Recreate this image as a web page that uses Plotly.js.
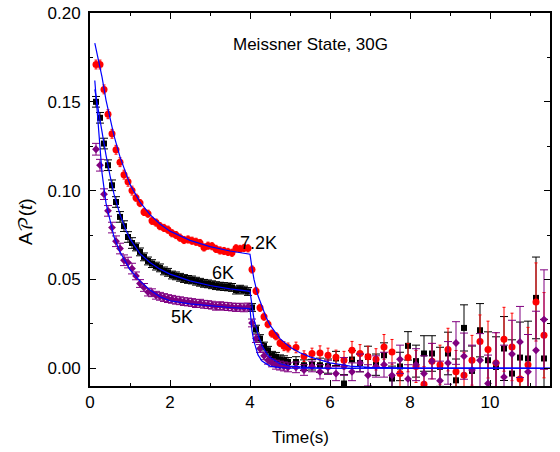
<!DOCTYPE html>
<html>
<head>
<meta charset="utf-8">
<script src="https://cdn.plot.ly/plotly-3.0.1.min.js"></script>
<style>html,body{margin:0;padding:0;background:#fff;}#chart{width:560px;height:452px;}</style>
</head>
<body>
<div id="chart"></div>
<script>
// time bins (s)
const t = [0.15,0.25,0.35,0.45,0.55,0.65,0.75,0.85,0.95,1.05,1.15,1.25,1.35,1.45,1.55,1.65,1.75,1.85,1.95,2.05,
  2.15,2.25,2.35,2.45,2.55,2.65,2.75,2.85,2.95,3.05,3.15,3.25,3.35,3.45,3.55,3.65,3.75,3.85,3.95,
  4.05,4.15,4.25,4.35,4.45,4.55,4.65,4.75,4.85,4.95,
  5.15,5.35,5.55,5.75,5.95,6.15,6.35,6.55,6.75,6.95,7.15,7.35,7.55,7.75,7.95,8.15,8.35,8.55,8.75,8.95,
  9.15,9.35,9.55,9.75,9.95,10.15,10.35,10.55,10.75,10.95,11.15,11.35];

// 7.2K (red)
const red = [0.171,0.171,0.157,0.143,0.132,0.123,0.116,0.109,0.105,0.100,0.096,0.093,0.088,0.087,0.083,0.082,0.080,0.079,0.078,0.076,
  0.075,0.0735,0.0722,0.0725,0.0718,0.0712,0.0705,0.068,0.069,0.0687,0.0672,0.0663,0.066,0.0655,0.065,0.0675,0.0672,0.0677,0.0675,
  0.0556,0.0435,0.034,0.029,0.0248,0.0195,0.018,0.0142,0.0124,0.0117,
  0.0117,0.0068,0.0083,0.0086,0.0073,0.0062,0.0045,0.0101,0.0083,0.0064,0.0050,0.0120,0.0092,-0.0030,0.0060,0.0010,-0.0090,0.0040,0.0020,0.0105,
  -0.0020,-0.0040,0.0045,0.0150,0.0105,0.0030,0.0163,0.0120,-0.0060,0.0020,0.0373,0.0186];
const redErr = [0.0025,0.0025,0.0025,0.0025,0.0025,0.0025,0.0025,0.0025,0.0025,0.0025,0.002,0.002,0.002,0.002,0.002,0.002,0.002,0.002,0.002,0.002,
  0.002,0.002,0.002,0.002,0.002,0.002,0.002,0.002,0.002,0.002,0.002,0.002,0.002,0.002,0.002,0.002,0.002,0.002,0.002,
  0.002,0.002,0.002,0.002,0.002,0.002,0.002,0.002,0.0025,0.0025,
  0.003,0.003,0.003,0.004,0.004,0.004,0.005,0.005,0.005,0.006,0.006,0.007,0.007,0.008,0.008,0.009,0.010,0.010,0.011,0.012,
  0.012,0.013,0.014,0.015,0.016,0.017,0.018,0.019,0.020,0.021,0.022,0.024];

// 6K (black)
const black = [0.150,0.141,0.1265,0.1143,0.103,0.0936,0.0852,0.080,0.0739,0.0705,0.0683,0.0655,0.0627,0.0604,0.0589,0.0575,0.0565,0.0548,0.054,0.0525,
  0.052,0.0512,0.0505,0.050,0.0497,0.049,0.0484,0.0478,0.0475,0.047,0.0465,0.0462,0.046,0.0458,0.0455,0.044,0.0445,0.044,0.0432,
  0.0342,0.022,0.0167,0.0125,0.0101,0.0073,0.0064,0.005,0.0045,0.0035,
  0.0035,0.0017,0.0020,0.0017,0.0012,0.0055,-0.0086,0.0049,0.0030,0.0064,0.0020,0.0073,-0.0058,0.0010,0.0126,0.0040,0.0083,0.0083,0.0008,0.0083,
  -0.0068,0.0227,-0.0015,0.0214,0.0045,0.0007,0.0111,-0.0030,0.0060,0.0055,0.0396,0.0055];
const blackErr = [0.003,0.003,0.003,0.003,0.003,0.003,0.003,0.003,0.003,0.003,0.0022,0.0022,0.0022,0.0022,0.0022,0.0022,0.0022,0.0022,0.0022,0.0022,
  0.0022,0.0022,0.0022,0.0022,0.0022,0.0022,0.0022,0.0022,0.0022,0.0022,0.0022,0.0022,0.0022,0.0022,0.0022,0.0022,0.0022,0.0022,0.0022,
  0.0022,0.0022,0.0022,0.0022,0.0022,0.0022,0.0025,0.0025,0.0025,0.0025,
  0.003,0.003,0.003,0.004,0.004,0.004,0.005,0.005,0.005,0.006,0.006,0.007,0.007,0.008,0.008,0.009,0.010,0.010,0.011,0.012,
  0.012,0.013,0.014,0.015,0.016,0.017,0.018,0.019,0.020,0.021,0.023,0.022];

// 5K (purple)
const purple = [0.1233,0.1143,0.098,0.0886,0.0792,0.0715,0.0674,0.0608,0.0595,0.0561,0.052,0.0477,0.0455,0.0429,0.0425,0.0411,0.0405,0.0398,0.0392,0.0388,
  0.0383,0.038,0.0375,0.0373,0.037,0.0364,0.0366,0.036,0.0358,0.0355,0.0349,0.0352,0.0349,0.0347,0.0345,0.0342,0.0344,0.034,0.0345,
  0.0255,0.0167,0.0111,0.007,0.0045,0.003,0.002,0.0015,0.001,0.0005,
  0.0005,-0.0010,0.0010,-0.0020,0.0005,-0.0030,0.0010,-0.0020,0.0030,-0.0040,0.0010,0.0020,-0.0040,0.0050,-0.0060,0.0020,-0.0030,0.0040,-0.0070,0.0030,
  0.0142,0.0068,-0.0010,0.0045,-0.0086,0.0030,-0.0050,0.0080,0.0148,-0.0020,0.0101,0.0274];
const purpleErr = [0.0033,0.0033,0.003,0.003,0.003,0.003,0.003,0.003,0.003,0.003,0.0022,0.0022,0.0022,0.0022,0.0022,0.0022,0.0022,0.0022,0.0022,0.0022,
  0.0022,0.0022,0.0022,0.0022,0.0022,0.0022,0.0022,0.0022,0.0022,0.0022,0.0022,0.0022,0.0022,0.0022,0.0022,0.0022,0.0022,0.0022,0.0022,
  0.0022,0.0022,0.0022,0.0022,0.0022,0.0022,0.0025,0.0025,0.0025,0.0025,
  0.003,0.003,0.003,0.004,0.004,0.004,0.005,0.005,0.005,0.006,0.006,0.007,0.007,0.008,0.008,0.009,0.010,0.010,0.011,0.012,
  0.012,0.013,0.014,0.015,0.016,0.017,0.018,0.019,0.020,0.021,0.022,0.028];

// fit curves
const fitRedT = [0.12,0.2,0.3,0.4,0.5,0.6,0.75,0.9,1.0,1.25,1.5,1.75,2.0,2.5,3.0,3.5,4.0,4.05,4.1,4.2,4.3,4.4,4.5,4.75,5.0,5.25,5.5,6.0,6.5,7.0,8.0,11.5];
const fitRed  = [0.183,0.175,0.164,0.151,0.1405,0.131,0.119,0.109,0.1035,0.0935,0.0865,0.0812,0.0772,0.0720,0.0685,0.0660,0.0642,0.0565,0.0500,0.0408,0.0342,0.0288,0.0243,0.0167,0.0118,0.0087,0.0064,0.0030,0.0012,0.0005,0.0001,0.0];
const fitBlackT = [0.12,0.2,0.3,0.4,0.5,0.6,0.75,0.9,1.0,1.25,1.5,1.75,2.0,2.5,3.0,3.5,4.0,4.05,4.1,4.2,4.3,4.4,4.5,4.75,5.0,5.5,6.0,11.5];
const fitBlack  = [0.157,0.146,0.132,0.120,0.1085,0.098,0.0865,0.0775,0.0728,0.0645,0.0595,0.0558,0.0530,0.0492,0.0466,0.0447,0.0433,0.0340,0.0275,0.0190,0.0128,0.0088,0.0060,0.0025,0.0012,0.0003,0.0,0.0];
const fitPurpleT = [0.12,0.2,0.3,0.4,0.5,0.6,0.75,0.9,1.0,1.25,1.5,1.75,2.0,2.5,3.0,3.5,4.0,4.05,4.1,4.15,4.2,4.3,4.5,4.75,5.0,11.5];
const fitPurple  = [0.162,0.137,0.110,0.093,0.0825,0.074,0.0655,0.059,0.0555,0.0490,0.0440,0.0402,0.0380,0.0362,0.0350,0.0342,0.0336,0.0210,0.0150,0.0105,0.0075,0.0040,0.0012,0.0003,0.0,0.0];

const labels = {title:'Meissner State, 30G', l72:'7.2K', l6:'6K', l5:'5K', xTitle:'Time(s)', yTitle:'A𝒫(<i>t</i>)'};

const FONT = 'Liberation Sans, Arial, DejaVu Sans, DejaVu Math TeX Gyre, sans-serif';
const BLUE = '#0000ff';

function pts(y, err, color, symbol, size, capw) {
  return {x: t, y: y, type: 'scatter', mode: 'markers',
    marker: {color: color, symbol: symbol, size: size, line: {width: 0}},
    error_y: {type: 'data', array: err, visible: true, color: color, thickness: 1, width: capw},
    showlegend: false, hoverinfo: 'skip'};
}
function fit(x, y) {
  return {x: x, y: y, type: 'scatter', mode: 'lines', line: {color: BLUE, width: 1.2}, showlegend: false, hoverinfo: 'skip'};
}

const data = [
  pts(black, blackErr, '#000000', 'square', 6, 4),
  pts(red, redErr, '#ff0000', 'circle', 7, 1.5),
  pts(purple, purpleErr, '#800080', 'diamond', 6, 4),
  fit(fitRedT, fitRed),
  fit(fitBlackT, fitBlack),
  fit(fitPurpleT, fitPurple)
];

const axisCommon = {
  showline: true, linecolor: '#000', linewidth: 2, mirror: 'ticks',
  ticks: 'inside', ticklen: 6, tickwidth: 1, tickcolor: '#000',
  showgrid: false, zeroline: false,
  tickfont: {family: FONT, size: 17, color: '#000'}
};

const layout = {
  width: 560, height: 452,
  margin: {l: 90, r: 10, t: 13, b: 66, pad: 0},
  paper_bgcolor: '#fff', plot_bgcolor: '#fff',
  font: {family: FONT, color: '#000'},
  xaxis: Object.assign({}, axisCommon, {
    range: [0, 11.5], tick0: 0, dtick: 2,
    minor: {ticks: 'inside', ticklen: 3, dtick: 1, tick0: 0, tickcolor: '#000', showgrid: false},
    title: {text: ''}
  }),
  yaxis: Object.assign({}, axisCommon, {
    range: [-0.01, 0.2], tick0: 0, dtick: 0.05, tickformat: '.2f',
    minor: {ticks: 'inside', ticklen: 3, dtick: 0.025, tick0: 0, tickcolor: '#000', showgrid: false},
    ticklabelstandoff: 4,
    title: {text: ''}
  }),
  annotations: [
    {text: labels.title, x: 5.5, y: 0.1824, xref: 'x', yref: 'y', showarrow: false, font: {family: FONT, size: 17}},
    {text: labels.l72, x: 4.22, y: 0.0706, xref: 'x', yref: 'y', showarrow: false, font: {family: FONT, size: 18}},
    {text: labels.l6, x: 3.33, y: 0.0535, xref: 'x', yref: 'y', showarrow: false, font: {family: FONT, size: 18}},
    {text: labels.l5, x: 2.3, y: 0.0287, xref: 'x', yref: 'y', showarrow: false, font: {family: FONT, size: 18}},
    {text: labels.xTitle, x: (300 - 90) / 460, y: (386 - 437) / 373, xref: 'paper', yref: 'paper', showarrow: false,
      xanchor: 'center', yanchor: 'middle', font: {family: FONT, size: 17}},
    {text: labels.yTitle, x: (26 - 90) / 460, y: (386 - 222) / 373, xref: 'paper', yref: 'paper', showarrow: false,
      textangle: -90, xanchor: 'center', yanchor: 'middle', font: {family: FONT, size: 19}}
  ]
};

Plotly.newPlot('chart', data, layout, {staticPlot: true, displayModeBar: false});
</script>
</body>
</html>
